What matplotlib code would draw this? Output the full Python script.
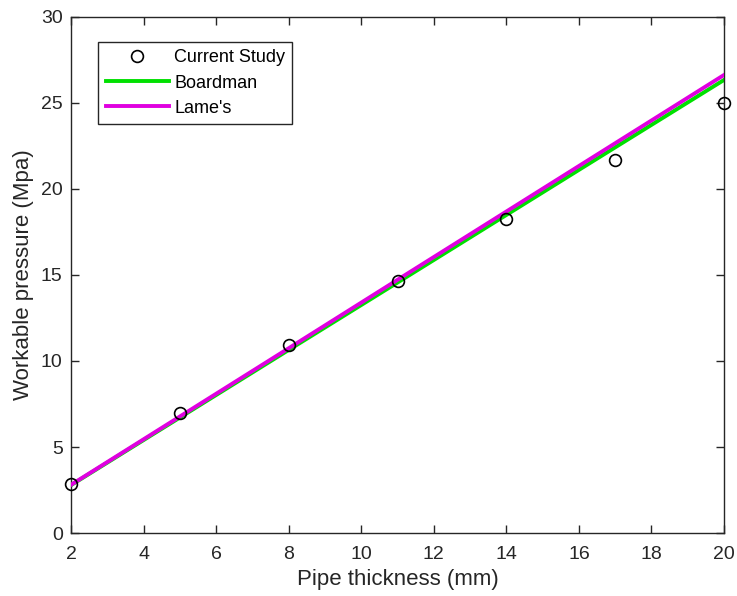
import numpy as np
import matplotlib
matplotlib.use("Agg")
import matplotlib.pyplot as plt

plt.rcParams['font.family'] = ['Liberation Sans', 'DejaVu Sans']

# pipe thickness (mm)
thickness = [2, 5, 8, 11, 14, 17, 20]
# workable pressure (MPa)
current_study = [2.85, 6.98, 10.93, 14.65, 18.26, 21.69, 25.0]
boardman = [2.78, 6.71, 10.64, 14.56, 18.49, 22.42, 26.34]
lame = [2.80, 6.77, 10.74, 14.72, 18.69, 22.66, 26.63]

fig = plt.figure(figsize=(7.37, 5.96), dpi=100)
ax = fig.add_axes([0.0963, 0.1057, 0.8861, 0.8658])

ax.plot(thickness, boardman, color='#00e000', lw=2.8, label='Boardman', zorder=2)
ax.plot(thickness, lame, color='#e000e0', lw=2.8, label="Lame's", zorder=3)
ax.plot(thickness, current_study, 'o', mfc='none', mec='black', ms=8.5, mew=1.2,
        label='Current Study', zorder=4, clip_on=False)

ax.set_xlim(2, 20)
ax.set_ylim(0, 30)
ax.set_xticks(np.arange(2, 21, 2))
ax.set_yticks(np.arange(0, 31, 5))
ax.tick_params(direction='in', top=True, right=True, length=6, width=1,
               colors='#262626', labelsize=14)
ax.tick_params(axis='x', pad=9)
ax.tick_params(axis='y', pad=6)
for s in ax.spines.values():
    s.set_color('#262626')
    s.set_linewidth(1)
ax.set_xlabel('Pipe thickness (mm)', fontsize=16, color='#262626', labelpad=5)
ax.set_ylabel('Workable pressure (Mpa)', fontsize=16, color='#262626', labelpad=5)

h, l = ax.get_legend_handles_labels()
order = [2, 0, 1]
leg = ax.legend([h[i] for i in order], [l[i] for i in order],
                loc='upper left', bbox_to_anchor=(0.042, 0.951), fontsize=13,
                fancybox=False, framealpha=1, edgecolor='#262626',
                handlelength=3.5, handletextpad=0.3, borderpad=0.4,
                labelspacing=0.45, borderaxespad=0)
leg.get_frame().set_linewidth(1)

fig.savefig('out.png', dpi=100)
